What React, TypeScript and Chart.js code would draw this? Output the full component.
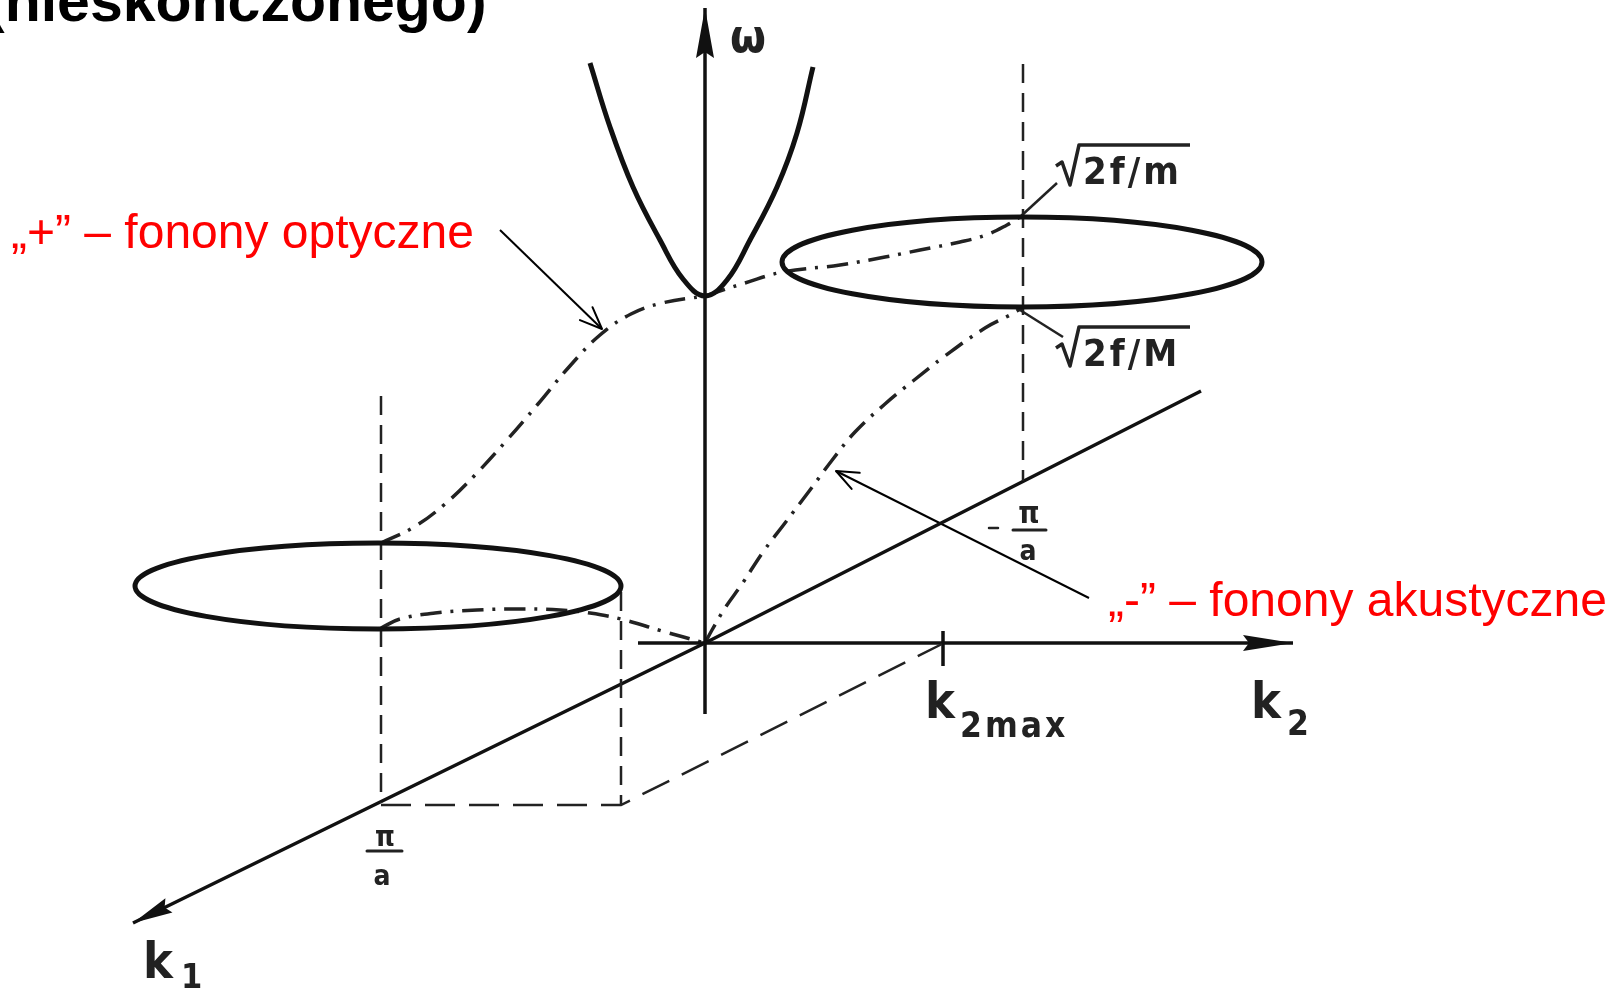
import React, { useEffect, useRef } from 'react';
import { Chart, registerables } from 'chart.js';

Chart.register(...registerables);

// Frame of the sketch: one unit = one pixel of the 1623 x 991 canvas, y grows downward.
const FRAME_W = 1623;
const FRAME_H = 991;

type Pt = { x: number; y: number };

// Axes of the (k1, k2, ω) sketch; k-space origin sits at (705, 643)
const omegaAxis: Pt[] = [{ x: 705, y: 714 }, { x: 705, y: 8 }];
const k2Axis: Pt[] = [{ x: 638, y: 643 }, { x: 1293, y: 643 }];
const k1Axis: Pt[] = [{ x: 1201, y: 391 }, { x: 705, y: 643 }, { x: 133, y: 923 }];
const k2maxTick: Pt[] = [{ x: 943, y: 631 }, { x: 943, y: 666 }];

// Construction lines at the zone boundary
const dropAtPiOverA: Pt[] = [{ x: 381, y: 396 }, { x: 381, y: 803 }];
const dropAtRim: Pt[] = [{ x: 621, y: 592 }, { x: 621, y: 805 }];
const rimBase: Pt[] = [{ x: 381, y: 805 }, { x: 621, y: 805 }, { x: 942, y: 644 }];
const dropAtMinusPiOverA: Pt[] = [{ x: 1023, y: 64 }, { x: 1023, y: 481 }];

// Solid branch around k = 0
const centralBranch: Pt[] = [
  { x: 590, y: 63 }, { x: 610, y: 127 }, { x: 633, y: 187 }, { x: 660, y: 240 },
  { x: 683, y: 279 }, { x: 705, y: 296 }, { x: 727, y: 280 }, { x: 750, y: 240 },
  { x: 777, y: 187 }, { x: 797, y: 133 }, { x: 813, y: 67 },
];

// "+" branch (optical)
const opticalLeft: Pt[] = [
  { x: 381, y: 543 }, { x: 414, y: 527 }, { x: 445, y: 504 }, { x: 476, y: 474 },
  { x: 507, y: 440 }, { x: 538, y: 404 }, { x: 569, y: 367 }, { x: 600, y: 335 },
  { x: 631, y: 314 }, { x: 662, y: 303 }, { x: 705, y: 296 },
];
const opticalRight: Pt[] = [
  { x: 705, y: 296 }, { x: 745, y: 283 }, { x: 783, y: 272 }, { x: 840, y: 265 },
  { x: 885, y: 257 }, { x: 920, y: 250 }, { x: 960, y: 242 }, { x: 986, y: 235 },
  { x: 1007, y: 225 }, { x: 1020, y: 217 },
];

// "-" branch (acoustic)
const acousticLeft: Pt[] = [
  { x: 381, y: 628 }, { x: 400, y: 619 }, { x: 435, y: 613 }, { x: 477, y: 610 },
  { x: 518, y: 609 }, { x: 560, y: 610 }, { x: 590, y: 613 }, { x: 621, y: 619 },
  { x: 662, y: 631 }, { x: 705, y: 643 },
];
const acousticRight: Pt[] = [
  { x: 705, y: 643 }, { x: 712, y: 630 }, { x: 725, y: 608 }, { x: 742, y: 584 },
  { x: 763, y: 552 }, { x: 785, y: 523 }, { x: 810, y: 490 }, { x: 833, y: 459 },
  { x: 855, y: 432 }, { x: 885, y: 404 }, { x: 913, y: 381 }, { x: 945, y: 356 },
  { x: 985, y: 328 }, { x: 1010, y: 315 }, { x: 1022, y: 308 },
];

// Constant-frequency rings at the zone boundary
const ringCentres: Pt[] = [{ x: 378, y: 586 }, { x: 1022, y: 262 }];
const ringRadii = [{ rx: 243, ry: 43 }, { rx: 240, ry: 45 }];

// Pointers and leaders
const opticalPointer: Pt[] = [{ x: 500, y: 230 }, { x: 602, y: 329 }];
const acousticPointer: Pt[] = [{ x: 1089, y: 598 }, { x: 836, y: 471 }];
const leaderSmallM: Pt[] = [{ x: 1057, y: 183 }, { x: 1020, y: 217 }];
const leaderBigM: Pt[] = [{ x: 1020, y: 310 }, { x: 1063, y: 337 }];

// Texts
const titleText = '(nieskończonego)';
const opticalCaption = '„+” – fonony optyczne';
const acousticCaption = '„-” – fonony akustyczne';
const rootSmallM = '2f/m';
const rootBigM = '2f/M';

const INK = '#111111';
const SOFT_INK = '#222222';
const RED = '#ff0000';
const LETTERS = '"DejaVu Sans Condensed", "DejaVu Sans", sans-serif';

const DASH_DOT = [21, 9, 3, 9];
const DASHED = [19, 10];
const LONG_DASHED = [30, 14];

const stroke = (data: Pt[], width: number, dash: number[] = [], color = INK, tension = 0) => ({
  data,
  showLine: true,
  borderColor: color,
  backgroundColor: color,
  borderWidth: width,
  borderDash: dash,
  pointRadius: 0,
  pointHoverRadius: 0,
  tension,
  fill: false,
  clip: false as const,
});

const arrowHeads = [
  { line: omegaAxis, kind: 'filled', length: 50, half: 9 },
  { line: k2Axis, kind: 'filled', length: 50, half: 8 },
  { line: k1Axis, kind: 'filled', length: 40, half: 8 },
  { line: opticalPointer, kind: 'open', length: 22, half: 9 },
  { line: acousticPointer, kind: 'open', length: 22, half: 9 },
];

const scenePlugin = {
  id: 'scene',
  afterDatasetsDraw(chart: any) {
    const ctx: CanvasRenderingContext2D = chart.ctx;
    const sx = chart.scales.x;
    const sy = chart.scales.y;
    const X = (v: number) => sx.getPixelForValue(v);
    const Y = (v: number) => sy.getPixelForValue(v);

    ctx.save();
    ctx.setLineDash([]);
    ctx.lineCap = 'round';
    ctx.lineJoin = 'round';

    // rings
    ctx.strokeStyle = INK;
    ctx.lineWidth = 5;
    ringCentres.forEach((c, i) => {
      const r = ringRadii[i];
      const cx = X(c.x);
      const cy = Y(c.y);
      const rx = Math.abs(X(c.x + r.rx) - cx);
      const ry = Math.abs(Y(c.y + r.ry) - cy);
      ctx.beginPath();
      ctx.ellipse(cx, cy, rx, ry, 0, 0, Math.PI * 2);
      ctx.stroke();
    });

    // arrow heads
    arrowHeads.forEach((a) => {
      const n = a.line.length;
      const tip = { x: X(a.line[n - 1].x), y: Y(a.line[n - 1].y) };
      const prev = { x: X(a.line[n - 2].x), y: Y(a.line[n - 2].y) };
      const dx = tip.x - prev.x;
      const dy = tip.y - prev.y;
      const d = Math.hypot(dx, dy);
      const ux = dx / d;
      const uy = dy / d;
      const bx = tip.x - ux * a.length;
      const by = tip.y - uy * a.length;
      const nx = -uy * a.half;
      const ny = ux * a.half;
      ctx.beginPath();
      if (a.kind === 'filled') {
        ctx.fillStyle = INK;
        ctx.moveTo(tip.x, tip.y);
        ctx.lineTo(bx + nx, by + ny);
        ctx.lineTo(bx + ux * a.length * 0.12, by + uy * a.length * 0.12);
        ctx.lineTo(bx - nx, by - ny);
        ctx.closePath();
        ctx.fill();
      } else {
        ctx.strokeStyle = '#000';
        ctx.lineWidth = 2;
        ctx.moveTo(bx + nx, by + ny);
        ctx.lineTo(tip.x, tip.y);
        ctx.lineTo(bx - nx, by - ny);
        ctx.stroke();
      }
    });

    const text = (t: string, x: number, y: number, font: string, color: string, align: CanvasTextAlign = 'left', spacing = 0) => {
      ctx.font = font;
      ctx.fillStyle = color;
      ctx.textAlign = align;
      ctx.textBaseline = 'alphabetic';
      (ctx as any).letterSpacing = `${spacing}px`;
      ctx.fillText(t, X(x), Y(y));
      (ctx as any).letterSpacing = '0px';
    };
    const seg = (pts: Pt[], width: number) => {
      ctx.strokeStyle = SOFT_INK;
      ctx.lineWidth = width;
      ctx.beginPath();
      pts.forEach((p, i) => (i ? ctx.lineTo(X(p.x), Y(p.y)) : ctx.moveTo(X(p.x), Y(p.y))));
      ctx.stroke();
    };

    // title fragment
    text(titleText, -15, 21, 'bold 59px "Liberation Sans", Arial, sans-serif', '#000');

    // red captions
    text(opticalCaption, 11, 248, '48px "Liberation Sans", Arial, sans-serif', RED);
    text(acousticCaption, 1108, 616, '48px "Liberation Sans", Arial, sans-serif', RED);

    // axis names
    text('ω', 748, 52, `bold 46px ${LETTERS}`, SOFT_INK, 'center');
    text('k', 925, 718, `bold 50px ${LETTERS}`, SOFT_INK);
    text('2max', 960, 737, `bold 35px ${LETTERS}`, SOFT_INK, 'left', 3);
    text('k', 1251, 718, `bold 50px ${LETTERS}`, SOFT_INK);
    text('2', 1287, 735, `bold 35px ${LETTERS}`, SOFT_INK);
    text('k', 143, 978, `bold 50px ${LETTERS}`, SOFT_INK);
    text('1', 181, 988, `bold 34px ${LETTERS}`, SOFT_INK);

    // π/a at both zone edges
    text('π', 385, 846, `bold 28px ${LETTERS}`, SOFT_INK, 'center');
    seg([{ x: 367, y: 851 }, { x: 402, y: 851 }], 3);
    text('a', 382, 885, `bold 28px ${LETTERS}`, SOFT_INK, 'center');

    seg([{ x: 989, y: 528 }, { x: 998, y: 528 }], 2.5);
    text('π', 1029, 523, `bold 30px ${LETTERS}`, SOFT_INK, 'center');
    seg([{ x: 1013, y: 530 }, { x: 1046, y: 530 }], 3);
    text('a', 1028, 560, `bold 28px ${LETTERS}`, SOFT_INK, 'center');

    // √(2f/m) and √(2f/M)
    ctx.lineCap = 'butt';
    seg([{ x: 1056, y: 166 }, { x: 1062, y: 162 }, { x: 1070, y: 185 }, { x: 1079, y: 145 }, { x: 1190, y: 145 }], 3.5);
    seg([{ x: 1056, y: 348 }, { x: 1062, y: 344 }, { x: 1070, y: 366 }, { x: 1079, y: 327 }, { x: 1190, y: 327 }], 3.5);
    text(rootSmallM, 1083, 184, `bold 38px ${LETTERS}`, SOFT_INK, 'left', 3);
    text(rootBigM, 1083, 366, `bold 38px ${LETTERS}`, SOFT_INK, 'left', 3);

    ctx.restore();
  },
};

export default function App() {
  const canvasRef = useRef<HTMLCanvasElement | null>(null);

  useEffect(() => {
    const canvas = canvasRef.current;
    if (!canvas) return;
    const datasets = [
      stroke(dropAtPiOverA, 2.5, DASHED, SOFT_INK),
      stroke(dropAtRim, 2.5, DASHED, SOFT_INK),
      stroke(rimBase, 2.5, LONG_DASHED, SOFT_INK),
      stroke(dropAtMinusPiOverA, 2.5, DASHED, SOFT_INK),
      stroke(k1Axis, 3.5),
      stroke(k2Axis, 3.5),
      stroke(k2maxTick, 3.5),
      stroke(omegaAxis, 3.5),
      stroke(centralBranch, 5, [], INK, 0.4),
      stroke(opticalLeft, 3.5, DASH_DOT, SOFT_INK, 0.4),
      stroke(opticalRight, 3.5, DASH_DOT, SOFT_INK, 0.4),
      stroke(acousticLeft, 3.5, DASH_DOT, SOFT_INK, 0.4),
      stroke(acousticRight, 3.5, DASH_DOT, SOFT_INK, 0.4),
      stroke(opticalPointer, 2, [], '#000'),
      stroke(acousticPointer, 2, [], '#000'),
      stroke(leaderSmallM, 2.5, [], SOFT_INK),
      stroke(leaderBigM, 2.5, [], SOFT_INK),
    ];
    const chart = new Chart(canvas, {
      type: 'scatter',
      data: { datasets: datasets as any },
      options: {
        animation: false,
        responsive: false,
        maintainAspectRatio: false,
        devicePixelRatio: 1,
        events: [],
        layout: { padding: 0 },
        scales: {
          x: { type: 'linear', min: 0, max: FRAME_W, display: false },
          y: { type: 'linear', min: 0, max: FRAME_H, reverse: true, display: false },
        },
        plugins: { legend: { display: false }, tooltip: { enabled: false }, title: { display: false } },
      },
      plugins: [scenePlugin],
    });
    return () => chart.destroy();
  }, []);

  return (
    <div style={{ position: 'fixed', left: 0, top: 0, width: FRAME_W, height: FRAME_H, background: '#fff' }}>
      <canvas ref={canvasRef} width={FRAME_W} height={FRAME_H} style={{ width: FRAME_W, height: FRAME_H, display: 'block' }} />
    </div>
  );
}
